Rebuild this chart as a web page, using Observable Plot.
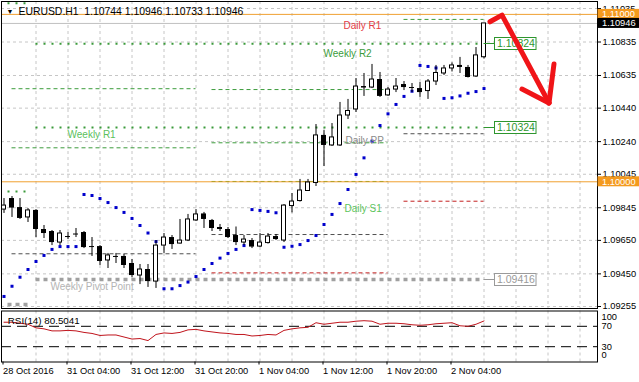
<!DOCTYPE html>
<html><head><meta charset="utf-8">
<script src="https://cdn.jsdelivr.net/npm/d3@7"></script>
<script src="https://cdn.jsdelivr.net/npm/@observablehq/plot@0.6"></script>
<style>
html,body{margin:0;padding:0;background:#fff;}
#chart svg{display:block;}
</style></head><body><div id="chart"></div>
<script>
// ---- DATA (EURUSD H1, bar 0 = 28 Oct 2016 20:00) ----
const open = [1.09834,1.09900,1.09846,1.09787,1.09829,1.09715,1.09703,1.09637,1.09673,1.09688,
1.09697,1.09613,1.09613,1.09530,1.09554,1.09554,1.09512,1.09440,1.09476,1.09404,
1.09619,1.09667,1.09631,1.09649,1.09769,1.09808,1.09769,1.09727,1.09715,1.09679,
1.09637,1.09649,1.09613,1.09634,1.09673,1.09649,1.09855,1.09885,1.09945,1.09993,
1.10277,1.10217,1.10217,1.10396,1.10432,1.10569,1.10563,1.10611,1.10516,1.10551,
1.10581,1.10563,1.10557,1.10542,1.10599,1.10647,1.10677,1.10695,1.10683,1.10629,
1.10744];
const high = [1.09900,1.09912,1.09900,1.09840,1.09834,1.09739,1.09709,1.09709,1.09697,1.09721,
1.09703,1.09667,1.09619,1.09572,1.09572,1.09566,1.09536,1.09506,1.09506,1.09649,
1.09691,1.09679,1.09775,1.09805,1.09834,1.09817,1.09775,1.09745,1.09727,1.09730,
1.09679,1.09661,1.09691,1.09691,1.09685,1.09864,1.09930,1.10014,1.10014,1.10342,
1.10306,1.10348,1.10474,1.10492,1.10617,1.10647,1.10701,1.10653,1.10563,1.10617,
1.10599,1.10587,1.10593,1.10611,1.10695,1.10695,1.10710,1.10743,1.10695,1.10802,
1.10946];
const low = [1.09811,1.09787,1.09775,1.09757,1.09667,1.09661,1.09619,1.09619,1.09655,1.09667,
1.09601,1.09554,1.09500,1.09482,1.09512,1.09482,1.09428,1.09386,1.09369,1.09363,
1.09572,1.09596,1.09628,1.09643,1.09763,1.09721,1.09703,1.09703,1.09661,1.09619,
1.09619,1.09601,1.09607,1.09628,1.09649,1.09637,1.09814,1.09879,1.09942,1.09972,
1.10091,1.10211,1.10211,1.10372,1.10414,1.10510,1.10557,1.10504,1.10510,1.10533,
1.10545,1.10533,1.10504,1.10492,1.10575,1.10635,1.10656,1.10647,1.10620,1.10623,
1.10733];
const close = [1.09858,1.09843,1.09781,1.09829,1.09715,1.09691,1.09637,1.09691,1.09676,1.09691,
1.09607,1.09610,1.09524,1.09560,1.09554,1.09500,1.09440,1.09476,1.09404,1.09619,
1.09667,1.09625,1.09649,1.09775,1.09805,1.09775,1.09721,1.09715,1.09667,1.09637,
1.09655,1.09610,1.09637,1.09673,1.09655,1.09858,1.09882,1.09948,1.09996,1.10277,
1.10217,1.10265,1.10396,1.10423,1.10569,1.10560,1.10611,1.10510,1.10551,1.10569,
1.10563,1.10560,1.10533,1.10599,1.10650,1.10677,1.10695,1.10683,1.10623,1.10755,
1.10946];
const sar = [1.09315,1.09376,1.09430,1.09476,1.09524,1.09560,1.09596,1.09613,1.09613,1.09613,
1.09924,1.09918,1.09900,1.09876,1.09846,1.09817,1.09781,1.09739,1.09694,1.09643,
1.09361,1.09361,1.09380,1.09401,1.09434,1.09476,1.09512,1.09544,1.09572,1.09596,
1.09619,1.09834,1.09829,1.09823,1.09815,1.09609,1.09615,1.09625,1.09649,1.09679,
1.09745,1.09805,1.09870,1.09954,1.10044,1.10143,1.10243,1.10336,1.10406,1.10462,
1.10510,1.10541,1.10695,1.10689,1.10680,1.10498,1.10502,1.10513,1.10529,1.10539,
1.10557];
const rsi = [78,78,76,74,67,65,61,61,62,61,
58,56,52,53,53,49,45,46,42,54,
57,56,58,63,64,61,59,57,56,54,
54,51,52,54,53,62,65,67,68,77,
74,76,78,78,80,81,80,74,76,76,
75,73,72,73,75,76,77,71,70,74,
80.5041];

const priceTicks = [1.11035,1.10835,1.10635,1.10440,1.10240,1.10045,1.09845,1.09650,1.09450,1.09255];
const timeTicks = [0,8,16,24,32,40,48,56];
const timeLabels = ["28 Oct 2016","31 Oct 04:00","31 Oct 12:00","31 Oct 20:00","1 Nov 04:00","1 Nov 12:00","1 Nov 20:00","2 Nov 04:00"];
const rsiTicks = [100,70,30,0];
const rsiLevels = [70,30];

const weeklyName = ["R2","R1","PP"];
const weeklyPrev = [1.11067,1.09942,1.09267];
const weeklyCur = [1.10824,1.10324,1.09416];
const weekPrevBars = [0.5,3];
const weekCurBars = [4,60];

const dailyKind = ["R","R","P","R","R","M","P","S","R","P","S"];
const dailyPrice = [1.10556,1.10203,1.09570,1.10551,1.10233,1.10002,1.09685,1.09456,1.10970,1.10287,1.09884];
const dailyFrom = [1,1,1,26,26,26,26,26,50,50,50];
const dailyTo = [24,24,24,48,48,48,48,48,60,60,60];

const roundLevels = [1.11000,1.10000];
const lastPrice = 1.10946;
const titleText = "EURUSD.H1\u00a0 1.10744 1.10946 1.10733 1.10946";
const rsiTitle = "RSI(14) 80.5041";

// hand-drawn arrow in (bar, price) space
const arrowBar = [60.81,62.31,68.19, 68.81,68.19, 64.81,68.19];
const arrowPrice = [1.10953,1.10993,1.10468, 1.10701,1.10468, 1.10551,1.10468];
const arrowPart = [0,0,0,1,1,2,2];

// ---- BUILD ----
const FONT = "'Liberation Sans', Arial, sans-serif";
const xDom = [-0.3125, 74.1875];
const yDom = [1.092431, 1.110770];
const gridBars = [4,8,12,16,20,24,28,32,36,40,44,48,52,56,60,64,68,72];

const candles = open.map((o,i)=>({i, o, h:high[i], l:low[i], c:close[i]}));
const isDoji = d => Math.abs(d.c-d.o) < 0.00004;
const upC = candles.filter(d=>!isDoji(d) && d.c>d.o);
const dnC = candles.filter(d=>!isDoji(d) && d.c<d.o);
const djC = candles.filter(isDoji);
const sarData = sar.map((v,i)=>({i, v}));

const wPrev = weeklyName.map((n,k)=>({n, p:weeklyPrev[k], a:weekPrevBars[0], b:weekPrevBars[1]}));
const wCur = weeklyName.map((n,k)=>({n, p:weeklyCur[k], a:weekCurBars[0], b:weekCurBars[1]}));
const wAll = wPrev.concat(wCur);
const daily = dailyKind.map((k,j)=>({k, p:dailyPrice[j], a:dailyFrom[j], b:dailyTo[j]}));
const dailyColor = {R:"#3c9c3c", P:"#505050", M:"#b4a028", S:"#c42020"};

const gridStyle = {stroke:"#c6c6c6", strokeDasharray:"3,3"};

const labelMarks = [
  {t:"Daily R1", bar:42.44, p:dailyPrice[8], dy:6.8, c:"#e43c44"},
  {t:"Weekly R2", bar:39.94, p:weeklyCur[0], dy:9.5, c:"#3c9c3c"},
  {t:"Weekly R1", bar:7.94, p:weeklyCur[1], dy:7.3, c:"#5cbf5c"},
  {t:"Daily PP", bar:42.69, p:dailyPrice[9], dy:7.2, c:"#8a8a8a"},
  {t:"Daily S1", bar:42.56, p:dailyPrice[10], dy:7.3, c:"#5cc45c"},
  {t:"Weekly Pivot Point", bar:5.81, p:weeklyCur[2], dy:7, c:"#b4b4b4"}
].map(l => Plot.text([l], {x:"bar", y:"p", text:"t", fill:l.c, dy:l.dy, textAnchor:"start", lineAnchor:"middle", fontSize:10}));

const main = Plot.plot({
  width:639, height:309,
  marginLeft:1, marginRight:42, marginTop:1, marginBottom:1,
  x:{domain:xDom, axis:null},
  y:{domain:yDom},
  style:{fontFamily:FONT, fontSize:"9.3px", color:"#000", background:"#fff", overflow:"visible"},
  marks:[
    Plot.ruleY(priceTicks, gridStyle),
    Plot.ruleX(gridBars, gridStyle),
    Plot.ruleY([lastPrice], {stroke:"#c0c0c0"}),
    Plot.ruleY(roundLevels, {stroke:"#f0a030"}),
    // daily pivots
    ...Object.keys(dailyColor).map(k => Plot.ruleY(daily.filter(d=>d.k===k), {y:"p", x1:"a", x2:"b", stroke:dailyColor[k], strokeDasharray:"4,3"})),
    // weekly pivots
    Plot.ruleY(wAll.filter(d=>d.n!=="PP"), {y:"p", x1:"a", x2:"b", stroke:"#3a9a3a", strokeWidth:2, strokeDasharray:"2,6"}),
    Plot.ruleY(wAll.filter(d=>d.n==="PP"), {y:"p", x1:"a", x2:"b", stroke:"#a0a0a0", strokeWidth:3.5, strokeDasharray:"4,4"}),
    // parabolic SAR
    Plot.dot(sarData, {x:"i", y:"v", symbol:"square", r:1.7, fill:"#0000cc", stroke:null}),
    // candles
    Plot.ruleX(candles, {x:"i", y1:"l", y2:"h", stroke:"#000"}),
    Plot.rect(dnC, {x1:d=>d.i-0.3125, x2:d=>d.i+0.3125, y1:"o", y2:"c", fill:"#000"}),
    Plot.rect(upC, {x1:d=>d.i-0.25, x2:d=>d.i+0.25, y1:"o", y2:"c", fill:"#fff", stroke:"#000"}),
    Plot.ruleY(djC, {y:"o", x1:d=>d.i-0.3125, x2:d=>d.i+0.3125, stroke:"#000"}),
    ...labelMarks,
    Plot.text([titleText], {frameAnchor:"top-left", dx:17, dy:10, textAnchor:"start", lineAnchor:"middle", fill:"#000", fontSize:10.4}),
    Plot.text(["▼"], {frameAnchor:"top-left", dx:5, dy:10, textAnchor:"start", lineAnchor:"middle", fill:"#000", fontSize:7}),
    Plot.frame({stroke:"#000"}),
    Plot.axisY({anchor:"right", ticks:priceTicks, tickFormat:d=>d.toFixed(5), tickSize:3, tickPadding:2, label:null})
  ]
});

// annotation overlays drawn with the plot's own scales
(function(){
  const xs = main.scale("x").apply, ys = main.scale("y").apply;
  const g = d3.select(main).append("g").attr("font-family", FONT).attr("text-anchor", "start");
  const x0 = xs(weekCurBars[1]);
  weeklyCur.forEach((p,k) => {
    const col = weeklyName[k]==="PP" ? "#9a9a9a" : "#2e962e";
    const y = Math.round(ys(p)) + 0.5;
    g.append("line").attr("x1", x0).attr("x2", x0+11).attr("y1", y).attr("y2", y).attr("stroke", col);
    g.append("rect").attr("x", x0+11).attr("y", y-6).attr("width", 41.5).attr("height", 12)
      .attr("fill", "#fff").attr("stroke", col);
    g.append("text").attr("x", x0+13.5).attr("y", y).attr("dy", "0.36em").attr("font-size", "10.5px")
      .attr("text-anchor", "start").attr("fill", col).text(p.toFixed(5));
  });
  // price tags on the axis
  const tags = [
    {p:roundLevels[0], bg:"#f49a1e"},
    {p:lastPrice, bg:"#000"},
    {p:roundLevels[1], bg:"#f49a1e"}
  ];
  tags.forEach(t => {
    const y = ys(t.p);
    g.append("rect").attr("x", 597.5).attr("y", y-5).attr("width", 41.5).attr("height", 10).attr("fill", t.bg);
    g.append("text").attr("x", 602).attr("y", y).attr("dy", "0.35em").attr("font-size", "9.3px")
      .attr("text-anchor", "start").attr("fill", "#fff").text(t.p.toFixed(5));
  });
  // red arrow
  const line = d3.line().x(d=>xs(d.b)).y(d=>ys(d.p));
  const pts = arrowBar.map((b,k)=>({b, p:arrowPrice[k], z:arrowPart[k]}));
  d3.groups(pts, d=>d.z).forEach(([z, arr]) => {
    g.append("path").attr("d", line(arr)).attr("fill", "none").attr("stroke", "#f01418")
      .attr("stroke-width", 5).attr("stroke-linecap", "round").attr("stroke-linejoin", "round");
  });
})();

const rsiPlot = Plot.plot({
  width:639, height:73,
  marginLeft:1, marginRight:42, marginTop:1.5, marginBottom:20.5,
  x:{domain:xDom},
  y:{domain:[0,100], axis:null},
  style:{fontFamily:FONT, fontSize:"9.3px", color:"#000", background:"#fff", overflow:"visible"},
  marks:[
    Plot.ruleX(gridBars, gridStyle),
    Plot.ruleY(rsiLevels, {stroke:"#000", strokeDasharray:"10,6"}),
    Plot.line(rsi, {x:(d,i)=>i, y:d=>d, stroke:"#c0141c", strokeWidth:1}),
    Plot.text([rsiTitle], {frameAnchor:"top-left", dx:6.3, dy:9.5, textAnchor:"start", lineAnchor:"middle", fill:"#000", fontSize:9.8}),
    Plot.frame({stroke:"#000"}),
    Plot.text(rsiTicks.filter(v=>v===70||v===30), {y:d=>d, text:d=>String(d), frameAnchor:"right", dx:4, textAnchor:"start", lineAnchor:"middle"}),
    Plot.text(rsiTicks.filter(v=>v===100), {y:d=>d, text:d=>String(d), frameAnchor:"right", dx:4, dy:6.5, textAnchor:"start", lineAnchor:"middle"}),
    Plot.text(rsiTicks.filter(v=>v===0), {y:d=>d, text:d=>String(d), frameAnchor:"right", dx:4, dy:-6.5, textAnchor:"start", lineAnchor:"middle"}),
    Plot.axisX({anchor:"bottom", ticks:timeTicks, tickFormat:i=>timeLabels[timeTicks.indexOf(i)], textAnchor:"start", dx:-1, tickSize:3, tickPadding:2, label:null})
  ]
});

document.getElementById("chart").append(main, rsiPlot);
</script>
</body></html>
